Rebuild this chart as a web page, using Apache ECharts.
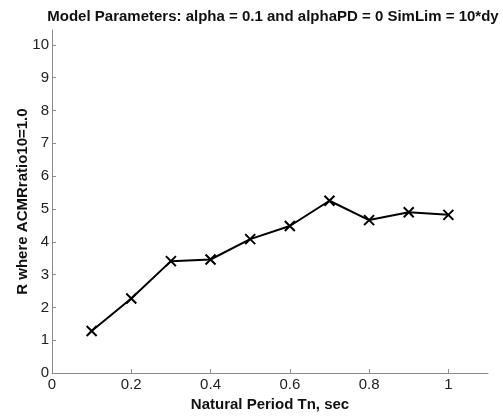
<!DOCTYPE html>
<html>
<head>
<meta charset="utf-8">
<script src="https://cdn.jsdelivr.net/npm/echarts@6/dist/echarts.min.js"></script>
<style>
  html, body { margin: 0; padding: 0; background: #fff; }
  #chart { width: 503px; height: 417px; }
</style>
</head>
<body>
<div id="chart"></div>
<script>
// Natural period (s) and R value where ACMR ratio reaches 1.0
const periods = [0.1, 0.2, 0.3, 0.4, 0.5, 0.6, 0.7, 0.8, 0.9, 1.0];
const rValues = [1.28, 2.27, 3.41, 3.46, 4.08, 4.48, 5.25, 4.66, 4.90, 4.82];
const xTicks = [0, 0.2, 0.4, 0.6, 0.8, 1];
const yTicks = [0, 1, 2, 3, 4, 5, 6, 7, 8, 9, 10];

const FONT = 'Liberation Sans, Arial, sans-serif';
const AXIS_GRAY = '#8c8c8c';

const chart = echarts.init(document.getElementById('chart'), null, { renderer: 'canvas' });

chart.setOption({
  animation: false,
  backgroundColor: '#fff',
  title: {
    text: 'Model Parameters: alpha = 0.1 and alphaPD = 0 SimLim = 10*dy',
    left: 268,
    textAlign: 'center',
    top: 4,
    textStyle: { fontFamily: FONT, fontSize: 15, fontWeight: 'bold', color: '#111' }
  },
  grid: { left: 52, right: 15, top: 30, bottom: 43 },
  xAxis: {
    type: 'value',
    min: 0,
    max: 1.1,
    interval: 0.2,
    name: 'Natural Period Tn, sec',
    nameLocation: 'middle',
    nameGap: 22,
    nameTextStyle: { fontFamily: FONT, fontSize: 15, fontWeight: 'bold', color: '#111' },
    axisLine: { lineStyle: { color: AXIS_GRAY, width: 1 } },
    axisTick: { inside: true, length: 4, lineStyle: { color: AXIS_GRAY } },
    axisLabel: {
      fontFamily: FONT, fontSize: 15, color: '#222', margin: 4,
      showMaxLabel: false,
      formatter: v => (xTicks.indexOf(Math.round(v * 10) / 10) >= 0 ? String(Math.round(v * 10) / 10) : '')
    },
    splitLine: { show: false }
  },
  yAxis: {
    type: 'value',
    min: 0,
    max: 10.45,
    interval: 1,
    name: 'R where ACMRratio10=1.0',
    nameLocation: 'middle',
    nameGap: 22,
    nameMoveOverlap: false,
    nameTextStyle: { fontFamily: FONT, fontSize: 15, fontWeight: 'bold', color: '#111' },
    axisLine: { show: true, lineStyle: { color: AXIS_GRAY, width: 1 } },
    axisTick: { show: true, inside: true, length: 4, lineStyle: { color: AXIS_GRAY } },
    axisLabel: {
      fontFamily: FONT, fontSize: 15, color: '#222', margin: 3,
      showMaxLabel: false,
      formatter: v => (yTicks.indexOf(v) >= 0 ? String(v) : '')
    },
    splitLine: { show: false }
  },
  series: [{
    type: 'line',
    data: periods.map((p, i) => [p, rValues[i]]),
    lineStyle: { color: '#000', width: 2 },
    symbol: 'path://M0,0L10,10M10,0L0,10',
    symbolSize: 10,
    itemStyle: { color: 'rgba(0,0,0,0)', borderColor: '#000', borderWidth: 2 }
  }]
});
</script>
</body>
</html>
